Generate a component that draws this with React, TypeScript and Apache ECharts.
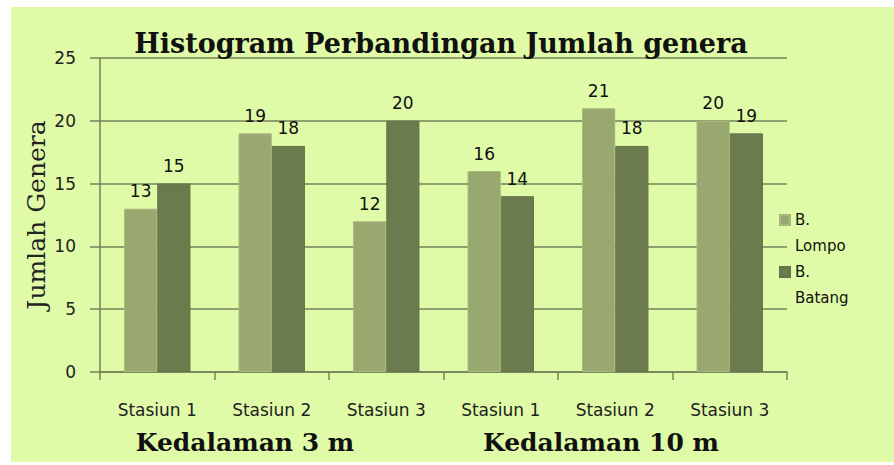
import React, { useEffect, useRef } from "react";
import * as echarts from "echarts";

const categories = ["Stasiun 1", "Stasiun 2", "Stasiun 3", "Stasiun 1", "Stasiun 2", "Stasiun 3"];
const lompo = [13, 19, 12, 16, 21, 20];
const batang = [15, 18, 20, 14, 18, 19];
const seriesNames = ["B. Lompo", "B. Batang"];
const groupLabels = ["Kedalaman 3 m", "Kedalaman 10 m"];
const titleText = "Histogram Perbandingan Jumlah genera";
const yName = "Jumlah Genera";

const BG = "#E0FBA7";
const LIGHT = "#98A86E";
const DARK = "#6C7B4E";
const LINE = "#74825A";

export default function App() {
  const ref = useRef<HTMLDivElement>(null);
  useEffect(() => {
    if (!ref.current) return;
    const chart = echarts.init(ref.current, undefined, { renderer: "svg" });
    const label = {
      show: true,
      position: "top",
      distance: 9,
      fontFamily: "DejaVu Sans",
      fontSize: 17,
      color: "#111",
    };
    chart.setOption({
      animation: false,
      backgroundColor: "transparent",
      title: {
        text: titleText,
        left: 436,
        textAlign: "center",
        top: 25,
        textStyle: { fontFamily: "DejaVu Serif", fontWeight: "bold", fontSize: 27, color: "#111" },
      },
      graphic: [
        { type: "rect", z: -10, shape: { x: 11, y: 7, width: 883, height: 455 }, style: { fill: BG } },
        {
          type: "text", x: 245, y: 442,
          style: { text: groupLabels[0], fontFamily: "DejaVu Serif", fontWeight: "bold", fontSize: 25, fill: "#111", align: "center", verticalAlign: "middle" },
        },
        {
          type: "text", x: 601, y: 442,
          style: { text: groupLabels[1], fontFamily: "DejaVu Serif", fontWeight: "bold", fontSize: 25, fill: "#111", align: "center", verticalAlign: "middle" },
        },
      ],
      legend: {
        orient: "vertical",
        left: 779,
        top: 181,
        padding: 0,
        itemWidth: 10,
        itemHeight: 10,
        itemGap: -26,
        icon: "rect",
        data: seriesNames,
        formatter: (n: string) => " \n" + n.replace(" ", "\n"),
        textStyle: { fontFamily: "DejaVu Sans", fontSize: 15, color: "#111", lineHeight: 26 },
      },
      grid: { left: 100, right: 107, top: 58, bottom: 93 },
      xAxis: {
        type: "category",
        data: categories,
        axisLine: { lineStyle: { color: LINE, width: 1.5 } },
        axisTick: { show: true, length: 8, lineStyle: { color: LINE, width: 1.5 } },
        axisLabel: { fontFamily: "DejaVu Sans", fontSize: 17, color: "#222", margin: 29 },
      },
      yAxis: {
        type: "value",
        min: 0,
        max: 25,
        interval: 5,
        name: yName,
        nameLocation: "middle",
        nameGap: 51,
        nameMoveOverlap: false,
        nameTextStyle: { fontFamily: "DejaVu Serif", fontSize: 25, color: "#222" },
        axisLine: { show: true, lineStyle: { color: LINE, width: 1.5 } },
        axisTick: { show: true, length: 10, lineStyle: { color: LINE, width: 1.5 } },
        axisLabel: { fontFamily: "DejaVu Sans", fontSize: 17, color: "#222", margin: 24 },
        splitLine: { lineStyle: { color: LINE, width: 1.5 } },
      },
      series: [
        {
          name: seriesNames[0], type: "bar", data: lompo, barGap: "0%", barCategoryGap: "42%",
          itemStyle: { color: LIGHT, borderColor: "#A8B87E", borderWidth: 1 }, label,
        },
        {
          name: seriesNames[1], type: "bar", data: batang, barGap: "0%", barCategoryGap: "42%",
          itemStyle: { color: DARK, borderColor: "#65744A", borderWidth: 1 }, label,
        },
      ],
    });
    return () => chart.dispose();
  }, []);
  return (
    <div style={{ position: "fixed", left: 0, top: 0, width: 894, height: 465, background: "#fff" }}>
      <div ref={ref} style={{ width: 894, height: 465 }} />
    </div>
  );
}
